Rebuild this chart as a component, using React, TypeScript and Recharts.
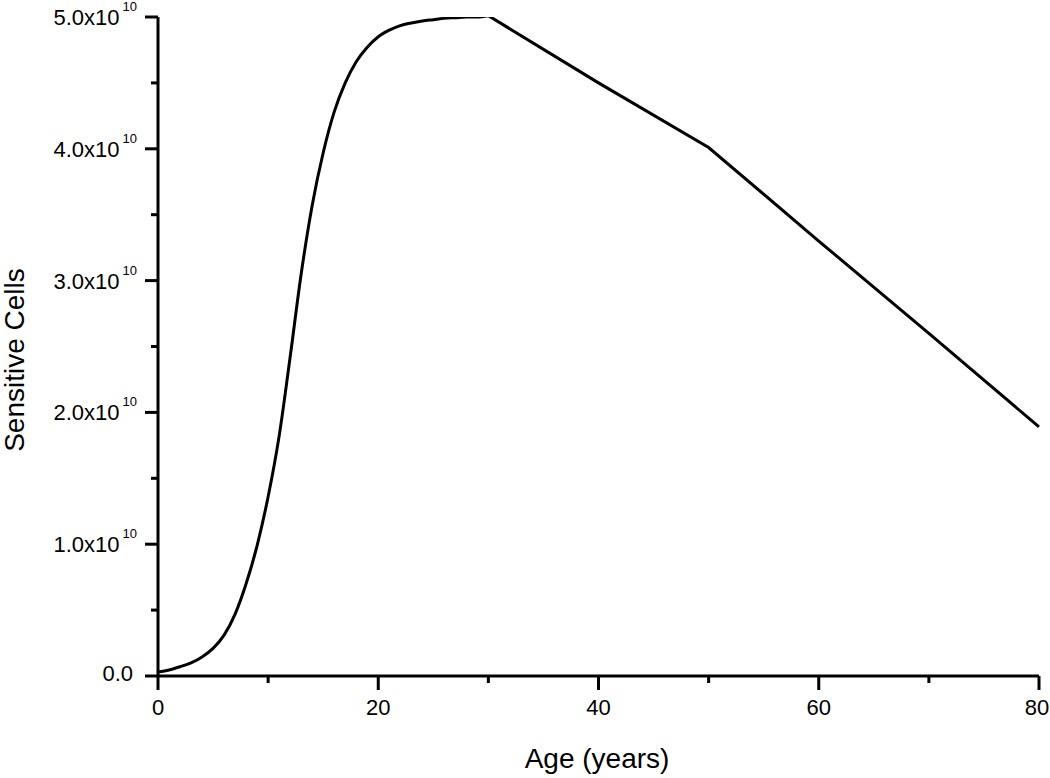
import React from "react";
import { LineChart, Line, XAxis, YAxis } from "recharts";

// age in years, rising phase (to the plateau) and declining phase
const riseAges: number[] = [
  0, 1, 2, 3, 4, 5, 6, 7, 8, 9, 10, 11, 12, 13, 14, 15, 16, 17, 18, 19, 20,
  21, 22, 23, 24, 25, 26, 27, 28, 29, 30,
];
// sensitive cells, in units of 1e10
const riseCells: number[] = [
  0.03, 0.045, 0.07, 0.1, 0.145, 0.21, 0.31, 0.47, 0.7, 0.99, 1.36, 1.82, 2.42,
  3.05, 3.57, 3.97, 4.28, 4.5, 4.66, 4.77, 4.85, 4.9, 4.935, 4.955, 4.97,
  4.98, 4.99, 4.995, 5.0, 5.0, 5.01,
];

const fallAges: number[] = [30, 40, 50, 60, 70, 80];
const fallCells: number[] = [5.01, 4.5, 4.01, 3.3, 2.6, 1.89];

const xTicks: number[] = [0, 10, 20, 30, 40, 50, 60, 70, 80];
const yTicks: number[] = [0, 0.5, 1, 1.5, 2, 2.5, 3, 3.5, 4, 4.5, 5].map(
  (v) => v * 1e10
);

const allAges = Array.from(new Set([...riseAges, ...fallAges])).sort((a, b) => a - b);
const data = allAges.map((age) => {
  const ri = riseAges.indexOf(age);
  const fi = fallAges.indexOf(age);
  return {
    age,
    rise: ri >= 0 ? riseCells[ri] * 1e10 : null,
    fall: fi >= 0 ? fallCells[fi] * 1e10 : null,
  };
});

const FONT = "'Liberation Sans', Arial, sans-serif";

const YTick = (props: any) => {
  const { x, y, payload } = props;
  const v = payload.value as number;
  const major = Math.abs(v / 1e10 - Math.round(v / 1e10)) < 1e-9;
  const len = major ? 13 : 7;
  return (
    <g>
      <line x1={x - len} y1={y} x2={x} y2={y} stroke="#000" strokeWidth={3} />
      {major && v === 0 && (
        <text x={x - 25} y={y + 5} textAnchor="end" fontSize={22} fontFamily={FONT} fill="#000">
          0.0
        </text>
      )}
      {major && v !== 0 && (
        <text x={x - 21} y={y + 8} textAnchor="end" fontSize={22} fontFamily={FONT} fill="#000">
          <tspan>{(v / 1e10).toFixed(1)}x10</tspan>
          <tspan dx={3} dy={-14} fontSize={13}>
            10
          </tspan>
        </text>
      )}
    </g>
  );
};

const XTick = (props: any) => {
  const { x, y, payload } = props;
  const v = payload.value as number;
  const major = v % 20 === 0;
  const len = major ? 14 : 7;
  return (
    <g>
      <line x1={x} y1={y} x2={x} y2={y + len} stroke="#000" strokeWidth={3} />
      {major && (
        <text x={v === 80 ? x - 2 : x} y={y + 39} textAnchor="middle" fontSize={22} fontFamily={FONT} fill="#000">
          {v}
        </text>
      )}
    </g>
  );
};

export default function App() {
  return (
    <div style={{ position: "absolute", left: 0, top: 0, width: 1050, height: 778, background: "#fff" }}>
      <LineChart
        width={1050}
        height={778}
        data={data}
        margin={{ top: 17, right: 11, left: 0, bottom: 0 }}
      >
        <XAxis
          dataKey="age"
          type="number"
          domain={[0, 80]}
          ticks={xTicks}
          tickLine={false}
          tickSize={0}
          tickMargin={0}
          tick={<XTick />}
          axisLine={{ stroke: "#000", strokeWidth: 3 }}
          height={102}
          interval={0}
        />
        <YAxis
          type="number"
          domain={[0, 5e10]}
          ticks={yTicks}
          tickLine={false}
          tickSize={0}
          tickMargin={0}
          tick={<YTick />}
          axisLine={{ stroke: "#000", strokeWidth: 3 }}
          width={158}
          interval={0}
          allowDataOverflow
        />
        <Line
          dataKey="rise"
          type="monotone"
          stroke="#000"
          strokeWidth={3}
          dot={false}
          isAnimationActive={false}
        />
        <Line
          dataKey="fall"
          type="linear"
          stroke="#000"
          strokeWidth={3}
          dot={false}
          connectNulls
          isAnimationActive={false}
        />
        <text x={597} y={768} textAnchor="middle" fontSize={28} fontFamily={FONT} fill="#000">
          Age (years)
        </text>
        <text
          x={24}
          y={360}
          transform="rotate(-90, 24, 360)"
          textAnchor="middle"
          fontSize={28}
          fontFamily={FONT}
          fill="#000"
        >
          Sensitive Cells
        </text>
      </LineChart>
    </div>
  );
}
